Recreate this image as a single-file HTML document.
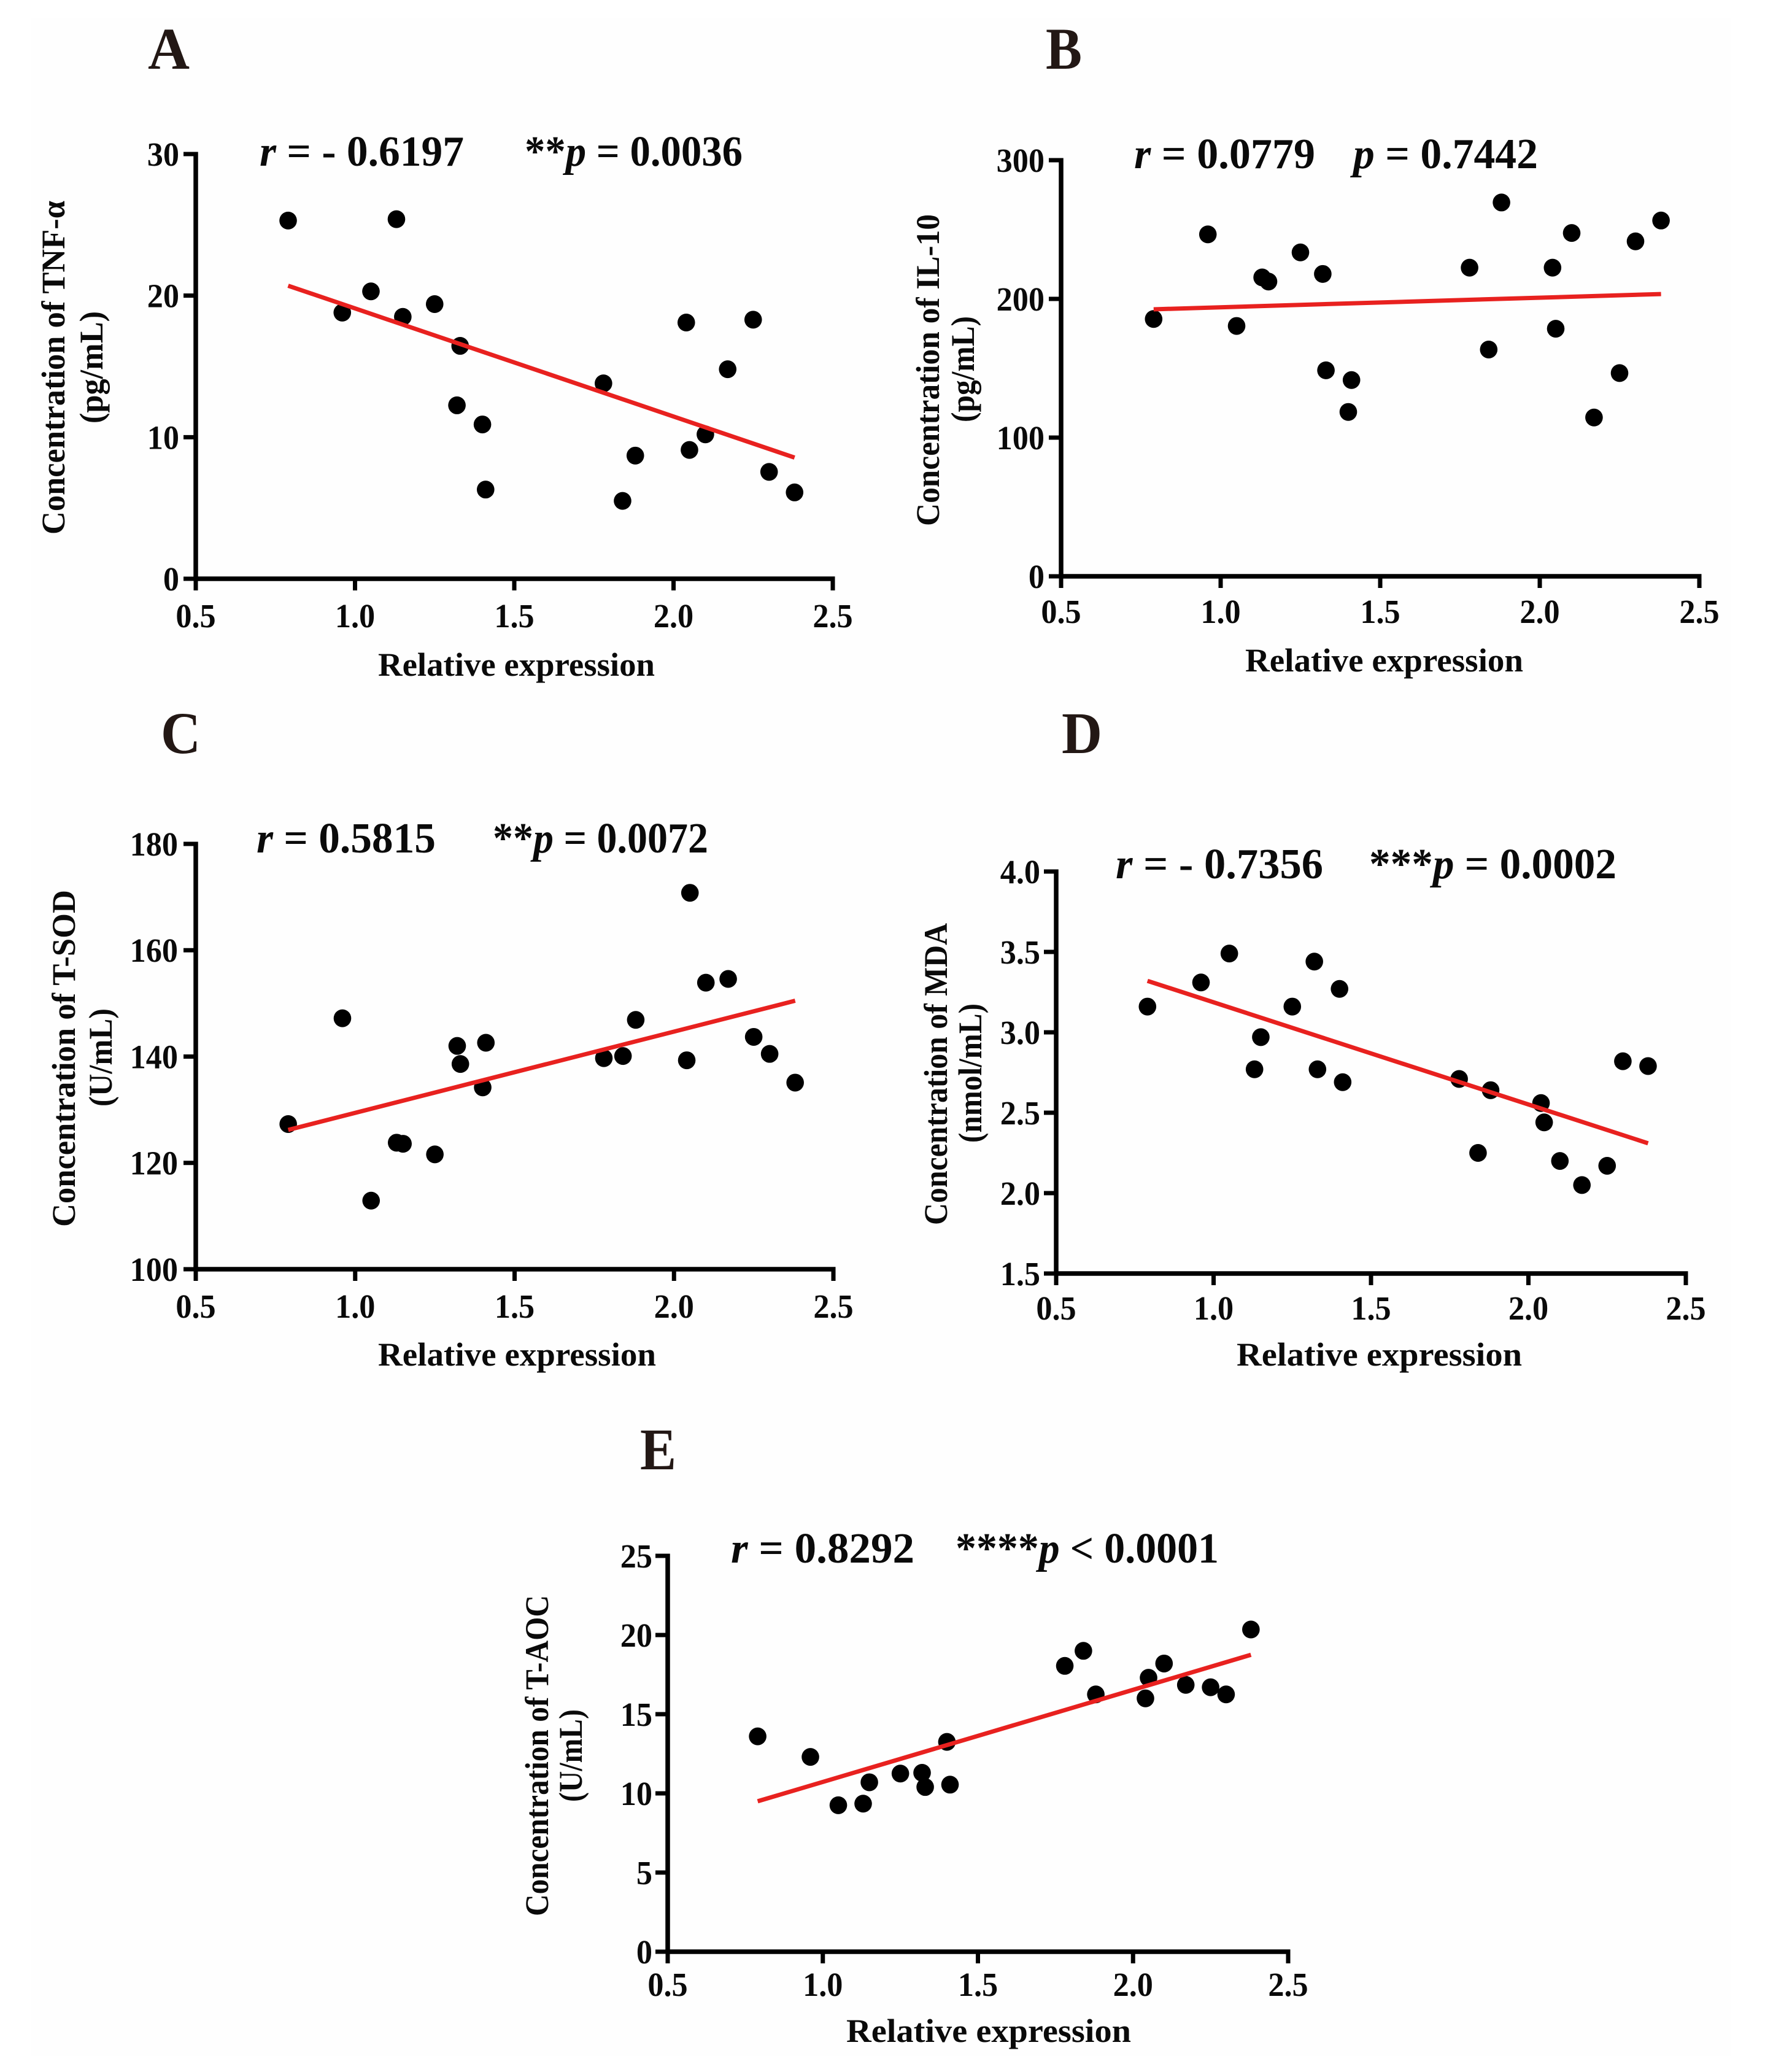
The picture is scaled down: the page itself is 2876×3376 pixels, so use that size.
<!DOCTYPE html>
<html lang="en">
<head>
<meta charset="utf-8">
<title>Correlation of relative expression with serum markers</title>
<style>
html,body{margin:0;padding:0;background:#fff}
svg{display:block}
text{font-family:"Liberation Serif","Noto Serif CJK SC",serif;font-weight:bold;fill:#0a0a0a}
.letter{font-size:96px;fill:#231815}
.note{font-size:70px}
.xt{font-size:54px}
.yt{font-size:54px}
.tick{font-size:55px}
</style>
</head>
<body>
<svg id="fig" xmlns="http://www.w3.org/2000/svg" width="2876" height="3376" viewBox="0 0 2876 3376">
<rect width="2876" height="3376" fill="#ffffff"/>
<rect x="50" y="30" width="2770" height="3320" fill="#fefefe"/>

<text class="letter" x="241" y="112" textLength="68" lengthAdjust="spacingAndGlyphs">A</text>
<text class="note" x="423" y="270" textLength="333" lengthAdjust="spacingAndGlyphs"><tspan font-style="italic">r</tspan> = - 0.6197</text>
<text class="note" x="855" y="270" textLength="355" lengthAdjust="spacingAndGlyphs">**<tspan font-style="italic">p</tspan> = 0.0036</text>
<text class="yt" transform="translate(105,871) rotate(-90)" textLength="544" lengthAdjust="spacingAndGlyphs">Concentration of TNF-α</text>
<text class="yt" transform="translate(167,690) rotate(-90)" textLength="183" lengthAdjust="spacingAndGlyphs">(pg/mL)</text>
<text class="xt" x="616" y="1101" textLength="451" lengthAdjust="spacingAndGlyphs">Relative expression</text>

<text class="letter" x="1704" y="112" textLength="59" lengthAdjust="spacingAndGlyphs">B</text>
<text class="note" x="1848" y="274" textLength="295" lengthAdjust="spacingAndGlyphs"><tspan font-style="italic">r</tspan> = 0.0779</text>
<text class="note" x="2205" y="274" textLength="301" lengthAdjust="spacingAndGlyphs"><tspan font-style="italic">p</tspan> = 0.7442</text>
<text class="yt" transform="translate(1530,857) rotate(-90)" textLength="508" lengthAdjust="spacingAndGlyphs">Concentration of IL-10</text>
<text class="yt" transform="translate(1587,688) rotate(-90)" textLength="173" lengthAdjust="spacingAndGlyphs">(pg/mL)</text>
<text class="xt" x="2029" y="1094" textLength="453" lengthAdjust="spacingAndGlyphs">Relative expression</text>

<text class="letter" x="262" y="1227" textLength="65" lengthAdjust="spacingAndGlyphs">C</text>
<text class="note" x="418" y="1389" textLength="292" lengthAdjust="spacingAndGlyphs"><tspan font-style="italic">r</tspan> = 0.5815</text>
<text class="note" x="803" y="1389" textLength="351" lengthAdjust="spacingAndGlyphs">**<tspan font-style="italic">p</tspan> = 0.0072</text>
<text class="yt" transform="translate(122,1999) rotate(-90)" textLength="549" lengthAdjust="spacingAndGlyphs">Concentration of T-SOD</text>
<text class="yt" transform="translate(182,1803) rotate(-90)" textLength="160" lengthAdjust="spacingAndGlyphs">(U/mL)</text>
<text class="xt" x="616" y="2225" textLength="453" lengthAdjust="spacingAndGlyphs">Relative expression</text>

<text class="letter" x="1730" y="1227" textLength="66" lengthAdjust="spacingAndGlyphs">D</text>
<text class="note" x="1818" y="1431" textLength="338" lengthAdjust="spacingAndGlyphs"><tspan font-style="italic">r</tspan> = - 0.7356</text>
<text class="note" x="2231" y="1431" textLength="403" lengthAdjust="spacingAndGlyphs">***<tspan font-style="italic">p</tspan> = 0.0002</text>
<text class="yt" transform="translate(1543,1996) rotate(-90)" textLength="492" lengthAdjust="spacingAndGlyphs">Concentration of MDA</text>
<text class="yt" transform="translate(1599,1862) rotate(-90)" textLength="227" lengthAdjust="spacingAndGlyphs">(nmol/mL)</text>
<text class="xt" x="2015" y="2225" textLength="465" lengthAdjust="spacingAndGlyphs">Relative expression</text>

<text class="letter" x="1043" y="2394" textLength="59" lengthAdjust="spacingAndGlyphs">E</text>
<text class="note" x="1191" y="2546" textLength="299" lengthAdjust="spacingAndGlyphs"><tspan font-style="italic">r</tspan> = 0.8292</text>
<text class="note" x="1557" y="2546" textLength="429" lengthAdjust="spacingAndGlyphs">****<tspan font-style="italic">p</tspan> &lt; 0.0001</text>
<text class="yt" transform="translate(893,3122) rotate(-90)" textLength="523" lengthAdjust="spacingAndGlyphs">Concentration of T-AOC</text>
<text class="yt" transform="translate(948,2936) rotate(-90)" textLength="151" lengthAdjust="spacingAndGlyphs">(U/mL)</text>
<text class="xt" x="1379" y="3327" textLength="464" lengthAdjust="spacingAndGlyphs">Relative expression</text>
</svg>

<script>
// Shared x values (relative expression) for all panels
const expression = [0.79,0.96,1.05,1.13,1.15,1.25,1.32,1.33,1.40,1.41,1.78,1.84,1.88,2.04,2.05,2.10,2.17,2.25,2.30,2.38];
const xTickValues = [0.5,1.0,1.5,2.0,2.5];
const xTickLabels = ["0.5","1.0","1.5","2.0","2.5"];
const fitX = [0.79,2.38];

// Panel A: TNF-alpha
const tnfValues = [25.3,18.8,20.3,25.4,18.5,19.4,12.25,16.45,10.9,6.3,13.8,5.5,8.7,18.1,9.1,10.2,14.8,18.3,7.55,6.1];
const tnfFit = [20.7,8.56];
const tnfTicks = [0,10,20,30];
const tnfTickLabels = ["0","10","20","30"];

// Panel B: IL-10
const il10Values = [185.5,246.5,180.5,215.5,212.5,233.5,218,148.5,118.5,141.5,222.5,163.5,269.5,222.5,178.5,247.5,114.5,146.5,241.5,256.5];
const il10Fit = [192.5,203.5];
const il10Ticks = [0,100,200,300];
const il10TickLabels = ["0","100","200","300"];

// Panel C: T-SOD
const sodValues = [127.3,147.2,112.9,123.8,123.6,121.6,142,138.6,134.2,142.6,139.7,140.1,146.9,139.3,170.8,153.9,154.6,143.7,140.5,135.1];
const sodFit = [126.2,150.5];
const sodTicks = [100,120,140,160,180];
const sodTickLabels = ["100","120","140","160","180"];

// Panel D: MDA
const mdaValues = [3.16,3.31,3.49,2.77,2.97,3.16,3.44,2.77,3.27,2.69,2.71,2.25,2.64,2.56,2.44,2.20,2.05,2.17,2.82,2.79];
const mdaFit = [3.32,2.31];
const mdaTicks = [1.5,2.0,2.5,3.0,3.5,4.0];
const mdaTickLabels = ["1.5","2.0","2.5","3.0","3.5","4.0"];

// Panel E: T-AOC
const aocValues = [13.6,12.3,9.25,9.35,10.7,11.25,11.3,10.4,13.25,10.55,18.05,19.0,16.25,16.0,17.3,18.2,16.85,16.7,16.25,20.35];
const aocFit = [9.5,18.75];
const aocTicks = [0,5,10,15,20,25];
const aocTickLabels = ["0","5","10","15","20","25"];

const NS = "http://www.w3.org/2000/svg";
const fig = document.getElementById("fig");

function make(tag, attrs, parent) {
  const el = document.createElementNS(NS, tag);
  for (const k in attrs) el.setAttribute(k, attrs[k]);
  parent.appendChild(el);
  return el;
}

function drawPanel(id, box, yValues, fit, yTicks, yLabels) {
  const sx = v => box.left + (v - 0.5) / 2 * (box.right - box.left);
  const sy = v => box.bottom - (v - yTicks[0]) / (yTicks[yTicks.length - 1] - yTicks[0]) * (box.bottom - box.top);

  const g = make("g", {}, fig);
  
  

  const yAxis = make("line", {x1: box.left, x2: box.left, y1: box.top - 3.5, y2: box.bottom + 3.5, stroke: "#000", "stroke-width": 7.5}, g);
  
  

  const xAxis = make("line", {x1: box.left - 3.5, x2: box.right + 3.5, y1: box.bottom, y2: box.bottom, stroke: "#000", "stroke-width": 7.5}, g);
  
  

  yTicks.forEach((v, i) => {
    const y = sy(v);
    const t = make("line", {x1: box.left - 20, x2: box.left, y1: y, y2: y, stroke: "#000", "stroke-width": 7}, g);
    
    
    const lab = make("text", {"class": "tick", x: box.yLabelRight, y: y + 19, "text-anchor": "end"}, g);
    
    
    lab.textContent = yLabels[i];
    lab.setAttribute("transform", "translate(" + box.yLabelRight + ",0) scale(0.95,1) translate(" + (-box.yLabelRight) + ",0)");
  });

  xTickValues.forEach((v, i) => {
    const x = sx(v);
    const t = make("line", {x1: x, x2: x, y1: box.bottom, y2: box.bottom + 19, stroke: "#000", "stroke-width": 7}, g);
    
    
    const lab = make("text", {"class": "tick", x: x, y: box.xLabelBase, "text-anchor": "middle"}, g);
    
    
    lab.textContent = xTickLabels[i];
    lab.setAttribute("transform", "translate(" + x + ",0) scale(0.95,1) translate(" + (-x) + ",0)");
  });

  yValues.forEach((v, i) => {
    const c = make("ellipse", {cx: sx(expression[i]), cy: sy(v), rx: 14.3, ry: 14.5, fill: "#000"}, g);
    
    
  });

  const line = make("line", {x1: sx(fitX[0]), y1: sy(fit[0]), x2: sx(fitX[1]), y2: sy(fit[1]), stroke: "#e8211f", "stroke-width": 7}, g);
  
  
}

drawPanel("a", {left:319, right:1357, top:251, bottom:943, yLabelRight:292, xLabelBase:1022}, tnfValues, tnfFit, tnfTicks, tnfTickLabels);
drawPanel("b", {left:1729, right:2769, top:261, bottom:939, yLabelRight:1702, xLabelBase:1015}, il10Values, il10Fit, il10Ticks, il10TickLabels);
drawPanel("c", {left:319, right:1358, top:1375, bottom:2068, yLabelRight:290, xLabelBase:2147}, sodValues, sodFit, sodTicks, sodTickLabels);
drawPanel("d", {left:1721, right:2747, top:1420, bottom:2075, yLabelRight:1695, xLabelBase:2150}, mdaValues, mdaFit, mdaTicks, mdaTickLabels);
drawPanel("e", {left:1088, right:2099, top:2535, bottom:3180, yLabelRight:1063, xLabelBase:3252}, aocValues, aocFit, aocTicks, aocTickLabels);
</script>
</body>
</html>
